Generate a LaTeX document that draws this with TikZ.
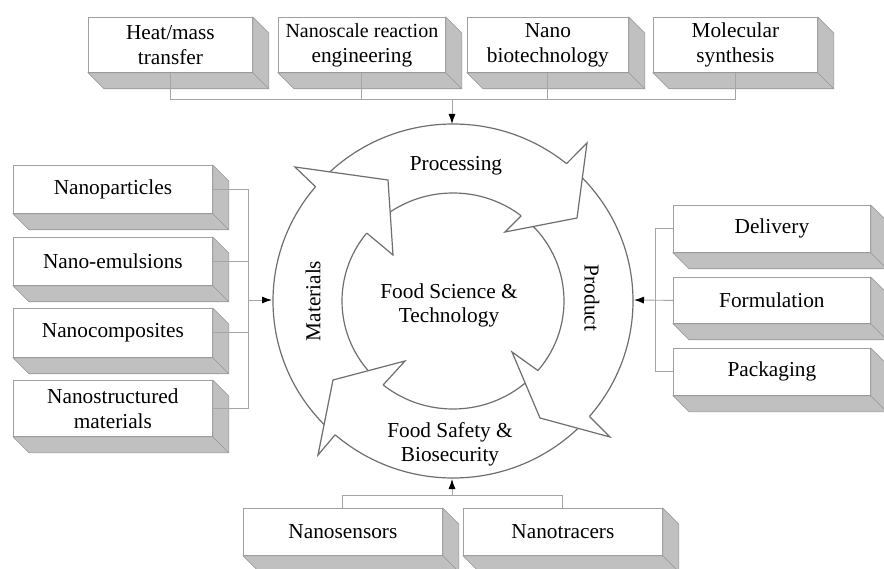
\documentclass[tikz,border=0pt]{standalone}
\usepackage{fontspec}
\setmainfont{Liberation Serif}
\usetikzlibrary{arrows.meta,calc}
\definecolor{frontedge}{RGB}{160,160,160}
\definecolor{sidegray}{RGB}{192,192,192}
\definecolor{sideedge}{RGB}{150,150,150}
\definecolor{conngray}{RGB}{165,165,165}
\definecolor{ringgray}{RGB}{110,110,110}
\newcommand{\tdbox}[6]{%
  \node[front, minimum width=#4pt, minimum height=#5pt, anchor=north west] (#1) at (#2,#3) {#6};
  \path[side] (#1.north east) -- ++(16,16) -- ($(#1.south east)+(16,16)$) -- ($(#1.south west)+(16,16)$) -- (#1.south west) -- (#1.south east) -- cycle;
  \draw[sideedge, line width=0.6pt] (#1.south east) -- ++(16,16);
}
\begin{document}
\begin{tikzpicture}[x=1pt,y=-1pt,
  front/.style={draw=frontedge, fill=white, line width=0.8pt, align=center, inner sep=0pt, font=\fontsize{21.3}{25}\selectfont},
  side/.style={fill=sidegray, draw=sideedge, line width=0.6pt},
  conn/.style={draw=conngray, line width=0.9pt},
  tip/.style={-{Latex[length=10pt,width=7pt,color=black]}},
  ring/.style={draw=ringgray, line width=1.2pt, line join=miter},
  lab/.style={font=\fontsize{21.3}{24}\selectfont, align=center, inner sep=1pt}
]
\useasboundingbox (0,0) rectangle (884,569);

% ---- boxes ----
\tdbox{heat}{88}{17}{164}{55}{Heat/mass\\transfer}
\tdbox{nre}{278}{17}{167}{55}{\fontsize{20}{25}\selectfont Nanoscale reaction\\engineering}
\tdbox{nbio}{467}{17}{161}{55}{Nano\\biotechnology}
\tdbox{mol}{653}{17}{164}{55}{Molecular\\synthesis}

\tdbox{np}{13}{165}{199}{48}{Nanoparticles}
\tdbox{ne}{13}{237}{199}{48}{Nano-emulsions}
\tdbox{nc}{13}{308}{199}{49}{Nanocomposites}
\tdbox{ns}{13}{380}{199}{56}{Nanostructured\\materials}

\tdbox{del}{673}{205}{197}{47}{Delivery}
\tdbox{form}{673}{277}{197}{46}{Formulation}
\tdbox{pack}{673}{348}{197}{47}{Packaging}

\tdbox{sens}{243}{508}{199}{47}{Nanosensors}
\tdbox{trac}{463}{508}{199}{47}{Nanotracers}

% ---- ring ----
\coordinate (C) at (453,301);
\draw[ring] (C) ellipse [x radius=180pt, y radius=177pt];
\draw[ring] (C) ellipse [x radius=111pt, y radius=108pt];

% heads
\coordinate (A1) at ($(C)+(139.8:180pt and 177pt)$);
\coordinate (E1) at ($(C)+(141:111pt and 108pt)$);
\coordinate (A2) at ($(C)+(50.9:180pt and 177pt)$);
\coordinate (E2) at ($(C)+(52.1:111pt and 108pt)$);
\coordinate (A3) at ($(C)+(-40.7:180pt and 177pt)$);
\coordinate (E3) at ($(C)+(-40.1:111pt and 108pt)$);
\coordinate (A4) at ($(C)+(229.1:180pt and 177pt)$);
\coordinate (E4) at ($(C)+(231:111pt and 108pt)$);

\fill[white] (A1) -- (295,167) -- (388,180) -- (393,255) -- (E1) -- cycle;
\draw[ring] (A1) -- (295,167) -- (388,180) -- (393,255) -- (E1);
\fill[white] (A2) -- (587,143) -- (577,218) -- (505,232) -- (E2) -- cycle;
\draw[ring] (A2) -- (587,143) -- (577,218) -- (505,232) -- (E2);
\fill[white] (A3) -- (610,437) -- (540,418) -- (512,352) -- (E3) -- cycle;
\draw[ring] (A3) -- (610,437) -- (540,418) -- (512,352) -- (E3);
\fill[white] (A4) -- (318,455) -- (333,380) -- (405,361) -- (E4) -- cycle;
\draw[ring] (A4) -- (318,455) -- (333,380) -- (405,361) -- (E4);

% ---- labels ----
\node[lab] (proc) at (456,166) {Processing};
\node[lab, rotate=90] (mat) at (313,301) {Materials};
\node[lab, rotate=-90] (prod) at (592,298) {Product};
\node[lab] (fsb) at (450,444) {Food Safety \&\\Biosecurity};
\node[lab] (fst) at (449,305) {Food Science \&\\Technology};

% ---- connectors ----
\coordinate (tj) at (452,99);
\coordinate (rtop) at (452,124);
\draw[conn] (heat.south) -- (heat.south |- tj) -- (mol.south |- tj) -- (mol.south);
\draw[conn] (nre.south) -- (nre.south |- tj);
\draw[conn] (nbio.south) -- (nbio.south |- tj);
\draw[conn,tip] (tj) -- (rtop);

\coordinate (lj) at (248,300);
\coordinate (rleft) at (272,300);
\draw[conn] (np.east) -- (np.east -| lj) -- (ns.east -| lj) -- (ns.east);
\draw[conn] (ne.east) -- (ne.east -| lj);
\draw[conn] (nc.east) -- (nc.east -| lj);
\draw[conn,tip] (lj) -- (rleft);

\coordinate (rj) at (655,300);
\coordinate (rright) at (634,300);
\draw[conn] (del.west) -- (del.west -| rj) -- (pack.west -| rj) -- (pack.west);
\draw[conn,tip] (form.west) -- (rright);

\coordinate (bj) at (452,495);
\coordinate (rbot) at (452,479);
\draw[conn] (sens.north) -- (sens.north |- bj) -- (trac.north |- bj) -- (trac.north);
\draw[conn,tip] (bj) -- (rbot);
\end{tikzpicture}
\end{document}
